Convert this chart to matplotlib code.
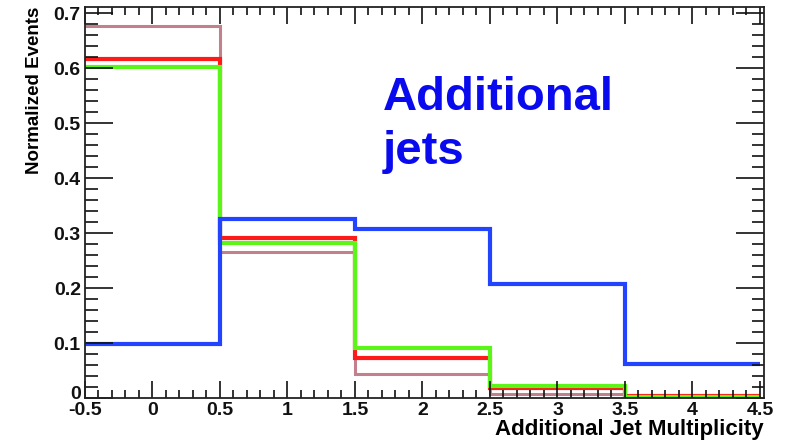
import numpy as np
import matplotlib
matplotlib.use("Agg")
import matplotlib.pyplot as plt
from matplotlib.ticker import MultipleLocator
from matplotlib.transforms import ScaledTranslation

plt.rcParams['font.family'] = ['Liberation Sans', 'DejaVu Sans']
plt.rcParams['font.weight'] = 'bold'

# Bin edges of the jet multiplicity histogram
bin_edges = [-0.5, 0.5, 1.5, 2.5, 3.5, 4.5]

# Normalized event fractions per sample
brown_vals = [0.677, 0.266, 0.044, 0.008, 0.001]
red_vals = [0.616, 0.291, 0.072, 0.019, 0.003]
green_vals = [0.602, 0.282, 0.091, 0.022, 0.001]
blue_vals = [0.098, 0.326, 0.307, 0.207, 0.062]

x_ticks = [-0.5, 0, 0.5, 1, 1.5, 2, 2.5, 3, 3.5, 4, 4.5]
x_tick_labels = ["-0.5", "0", "0.5", "1", "1.5", "2", "2.5", "3", "3.5", "4", "4.5"]
y_ticks = [0, 0.1, 0.2, 0.3, 0.4, 0.5, 0.6, 0.7]
y_tick_labels = ["0", "0.1", "0.2", "0.3", "0.4", "0.5", "0.6", "0.7"]

fig = plt.figure(figsize=(7.97, 4.40), dpi=100)
ax = fig.add_axes([85 / 797, 1 - 398 / 440, (764 - 85) / 797, (398 - 7) / 440])

ax.stairs(brown_vals, bin_edges, color="#c27f8c", linewidth=2.2, baseline=None)
ax.stairs(red_vals, bin_edges, color="#ff1a1a", linewidth=3.0, baseline=None)
ax.stairs(green_vals, bin_edges, color="#5cf51a", linewidth=3.0, baseline=None)
ax.stairs(blue_vals, bin_edges, color="#2244ff", linewidth=3.0, baseline=None)

ax.set_xlim(-0.5, 4.53)
ax.set_ylim(0, 0.711)

ax.set_xticks(x_ticks)
ax.set_xticklabels(x_tick_labels)
ax.set_yticks(y_ticks)
ax.set_yticklabels(y_tick_labels)
ax.xaxis.set_minor_locator(MultipleLocator(0.1))
ax.yaxis.set_minor_locator(MultipleLocator(0.02))

ax.tick_params(which="both", direction="in", top=True, right=True, width=1.2,
               labelsize=14, pad=3, colors="#111111")
ax.tick_params(axis="x", which="major", length=12)
ax.tick_params(axis="x", which="minor", length=6)
ax.tick_params(axis="y", which="major", length=20)
ax.tick_params(axis="y", which="minor", length=9)
for lbl in ax.get_xticklabels() + ax.get_yticklabels():
    lbl.set_fontweight("bold")
# lift the y-axis zero label clear of the first x label
zero_lbl = ax.get_yticklabels()[0]
zero_lbl.set_transform(zero_lbl.get_transform() + ScaledTranslation(0, 6 / 100, fig.dpi_scale_trans))
for sp in ax.spines.values():
    sp.set_linewidth(1.3)
    sp.set_color("#222222")

ax.set_ylabel("Normalized Events", fontsize=13.5, fontweight="bold", loc="top", labelpad=8)
ax.set_xlabel("Additional Jet Multiplicity", fontsize=16, fontweight="bold", loc="right", labelpad=0)

ax.text(383 / 797, 1 - 164 / 440, "Additional\njets", transform=fig.transFigure,
        fontsize=34, fontweight="bold", color="#0a0aee", va="baseline", ha="left",
        linespacing=1.3)

fig.savefig("out.png", dpi=100)
